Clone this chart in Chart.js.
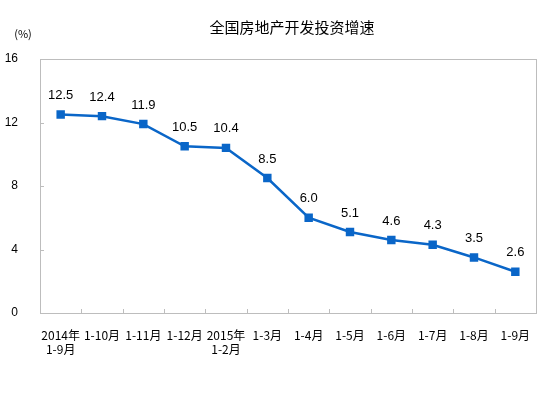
<!DOCTYPE html>
<html>
<head>
<meta charset="utf-8">
<script src="https://cdn.jsdelivr.net/npm/chart.js@4/dist/chart.umd.min.js"></script>
<style>
  html, body { margin: 0; padding: 0; background: #fff; }
  #wrap { width: 554px; height: 393px; }
</style>
</head>
<body>
<div id="wrap"><canvas id="chart" width="554" height="393"></canvas></div>
<script>
// chart data
const categories = [
    ["2014年", "1-9月"], "1-10月", "1-11月", "1-12月", ["2015年", "1-2月"],
    "1-3月", "1-4月", "1-5月", "1-6月", "1-7月", "1-8月", "1-9月"
];
const growth = [12.5, 12.4, 11.9, 10.5, 10.4, 8.5, 6.0, 5.1, 4.6, 4.3, 3.5, 2.6];
const yTicks = [0, 4, 8, 12, 16];
const title = "全国房地产开发投资增速";
const unit = "(%)";

const lineColor = "#0A66C8";
const frameColor = "#BDBDBD";

// frame, inner ticks, title and value labels
const decorations = {
    id: "decorations",
    afterDraw(chart) {
        const ctx = chart.ctx;
        const area = chart.chartArea;
        const y = chart.scales.y;

        ctx.save();
        ctx.strokeStyle = frameColor;
        ctx.lineWidth = 1;
        ctx.strokeRect(Math.round(area.left) + 0.5, Math.round(area.top) + 0.5,
            Math.round(area.right - area.left), Math.round(area.bottom - area.top));

        ctx.beginPath();
        const step = (area.right - area.left) / categories.length;
        for (let i = 1; i < categories.length; i++) {
            const px = Math.round(area.left + step * i) + 0.5;
            ctx.moveTo(px, area.bottom);
            ctx.lineTo(px, area.bottom - 4);
        }
        yTicks.slice(1, -1).forEach(v => {
            const py = Math.round(y.getPixelForValue(v)) + 0.5;
            ctx.moveTo(area.left, py);
            ctx.lineTo(area.left + 4, py);
        });
        ctx.stroke();

        ctx.fillStyle = "#000";
        ctx.textAlign = "center";
        ctx.textBaseline = "middle";
        ctx.font = "15px 'Noto Sans CJK SC'";
        ctx.fillText(title, 292, 27);
        ctx.font = "11px 'Noto Sans CJK SC'";
        ctx.fillText(unit, 23, 34);

        ctx.font = "13px 'Liberation Sans', Arial";
        const meta = chart.getDatasetMeta(0);
        meta.data.forEach((pt, i) => {
            ctx.fillText(growth[i].toFixed(1), pt.x, pt.y - 19);
        });
        ctx.restore();
    }
};

new Chart(document.getElementById("chart").getContext("2d"), {
    type: "line",
    data: {
        labels: categories,
        datasets: [{
            data: growth,
            borderColor: lineColor,
            backgroundColor: lineColor,
            borderWidth: 2.5,
            pointStyle: "rect",
            pointRadius: 4.2,
            pointHoverRadius: 4.2,
            tension: 0
        }]
    },
    options: {
        responsive: false,
        animation: false,
        layout: { padding: { top: 59, right: 18, left: 0, bottom: 0 } },
        plugins: {
            legend: { display: false },
            tooltip: { enabled: false }
        },
        scales: {
            x: {
                offset: true,
                grid: { display: false },
                border: { display: false },
                ticks: {
                    color: "#000",
                    padding: 8,
                    maxRotation: 0,
                    autoSkip: false,
                    font: { family: "'Noto Sans CJK SC'", size: 12, lineHeight: 1.15 }
                },
                afterFit(scale) { scale.height = 80; }
            },
            y: {
                min: 0,
                max: 16,
                afterBuildTicks(scale) { scale.ticks = yTicks.map(v => ({ value: v })); },
                grid: { display: false },
                border: { display: false },
                ticks: {
                    color: "#000",
                    padding: 14,
                    font: { family: "'Liberation Sans', Arial", size: 12 }
                },
                afterFit(scale) { scale.width = 40; }
            }
        }
    },
    plugins: [decorations]
});
</script>
</body>
</html>
